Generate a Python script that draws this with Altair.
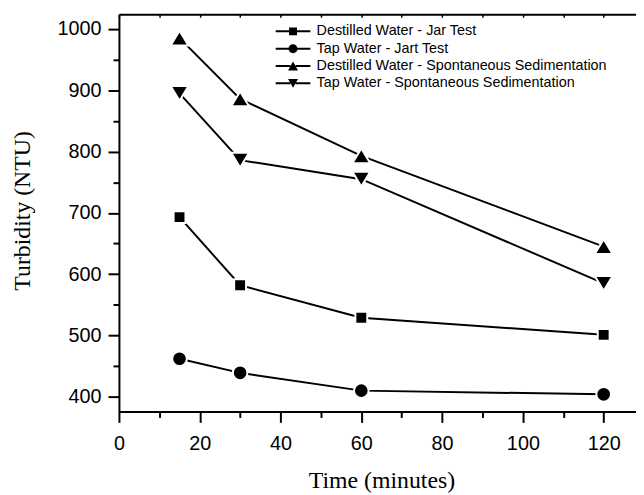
import altair as alt
import pandas as pd

# ---- data ----
time_min = [15, 30, 60, 120]
series_names = [
    "Destilled Water - Jar Test",
    "Tap Water - Jart Test",
    "Destilled Water - Spontaneous Sedimentation",
    "Tap Water - Spontaneous Sedimentation",
]
dw_jar = [693, 582, 529, 501]
tw_jar = [462, 439, 410, 404]
dw_ss = [985, 886, 793, 645]
tw_ss = [895, 786, 755, 585]

x_ticks = list(range(0, 130, 10))
y_ticks = list(range(400, 1001, 50))

rows = []
for name, vals in zip(series_names, [dw_jar, tw_jar, dw_ss, tw_ss]):
    for t, v in zip(time_min, vals):
        rows.append({"time": t, "turbidity": v, "series": name})
df = pd.DataFrame(rows)

# marker shapes (unit paths)
plot_paths = [
    "M-0.6,-0.6H0.6V0.6H-0.6Z",
    "M-0.74,0A0.74,0.74 0 1,1 0.74,0A0.74,0.74 0 1,1 -0.74,0Z",
    "M0,-0.75L0.9,0.75L-0.9,0.75Z",
    "M0,0.75L0.9,-0.75L-0.9,-0.75Z",
]
seg = "M-2.917,-0.167H-0.45V0.167H-2.917Z M0.45,-0.167H2.917V0.167H0.45Z "
legend_paths = [
    seg + "M-0.667,-0.667H0.667V0.667H-0.667Z",
    seg + "M-0.75,0A0.75,0.75 0 1,1 0.75,0A0.75,0.75 0 1,1 -0.75,0Z",
    seg + "M0,-0.75L0.833,0.75L-0.833,0.75Z",
    seg + "M0,0.75L-0.833,-0.75L0.833,-0.75Z",
]

xs = alt.Scale(domain=[0, 128], nice=False, zero=False)
ys = alt.Scale(domain=[376, 1024], nice=False, zero=False)

LAB = "Liberation Sans"
SER = "Liberation Serif"

y_enc = alt.Y(
    "turbidity:Q",
    scale=ys,
    axis=alt.Axis(
        values=y_ticks,
        format="d",
        labelExpr="datum.value % 100 === 0 ? datum.label : ''",
        tickSize={"condition": {"test": "datum.value % 100 === 0", "value": 11}, "value": 6},
        tickWidth=2,
        tickColor="black",
        domainWidth=2,
        domainColor="black",
        labelFont=LAB,
        labelFontSize=20,
        labelColor="black",
        labelPadding=7,
        grid=False,
        title="Turbidity (NTU)",
        titleFont=SER,
        titleFontSize=24,
        titleFontWeight="normal",
        titleColor="black",
        titleAngle=270,
        titleBaseline="alphabetic",
        titleAlign="center",
        titleX=-90,
        titleY=198,
    ),
)

x_bottom = alt.X(
    "time:Q",
    scale=xs,
    axis=alt.Axis(
        values=x_ticks,
        format="d",
        labelExpr="datum.value % 20 === 0 ? datum.label : ''",
        tickSize={"condition": {"test": "datum.value % 20 === 0", "value": 11}, "value": 6},
        tickWidth=2,
        tickColor="black",
        domainWidth=2,
        domainColor="black",
        labelFont=LAB,
        labelFontSize=20,
        labelColor="black",
        labelPadding=11,
        labelFlush=False,
        grid=False,
        title="Time (minutes)",
        titleFont=SER,
        titleFontSize=24,
        titleFontWeight="normal",
        titleColor="black",
        titleBaseline="alphabetic",
        titleAlign="center",
        titleX=265,
        titleY=77,
    ),
)

# top frame line
x_top = alt.X(
    "time:Q",
    scale=xs,
    axis=alt.Axis(
        orient="top",
        values=x_ticks,
        labels=False,
        ticks=False,
        title=None,
        domainWidth=2,
        domainColor="black",
        grid=False,
    ),
)

# small inward ticks on the top frame
x_top_ticks = alt.X(
    "time:Q",
    scale=xs,
    axis=alt.Axis(
        orient="top",
        values=x_ticks,
        labels=False,
        domain=False,
        title=None,
        offset=-3,
        tickSize=3,
        tickWidth=1.5,
        tickColor="black",
        grid=False,
    ),
)

base = alt.Chart(df)

lines = base.mark_line(color="black", strokeWidth=2).encode(
    x=x_bottom, y=y_enc, detail="series:N"
)

points = base.mark_point(
    filled=True, fill="black", stroke="white", strokeWidth=2, size=400, opacity=1
).encode(
    x=x_top,
    y=y_enc,
    shape=alt.Shape(
        "series:N",
        scale=alt.Scale(domain=series_names, range=plot_paths),
        legend=None,
    ),
)

legend_layer = base.mark_point(filled=True, color="black", opacity=0).encode(
    x=x_top_ticks,
    y=y_enc,
    shape=alt.Shape(
        "series:N",
        scale=alt.Scale(domain=series_names, range=legend_paths),
        legend=alt.Legend(
            title=None,
            orient="none",
            legendX=168.5,
            legendY=10,
            padding=0,
            symbolSize=144,
            symbolStrokeWidth=0,
            symbolOpacity=1,
            symbolFillColor="black",
            labelFont=LAB,
            labelFontSize=14.5,
            labelColor="black",
            labelOffset=16.5,
            labelLimit=400,
            rowPadding=2.5,
        ),
    ),
)

chart = (
    alt.layer(lines, points, legend_layer)
    .resolve_scale(shape="independent")
    .resolve_axis(x="independent")
    .properties(
        width=522,
        height=401,
        autosize=alt.AutoSizeParams(type="none"),
        padding={"left": 112, "top": 4, "right": 0, "bottom": 82},
        background="white",
    )
    .configure_view(stroke=None)
)

chart.save("out.html", embed_options={"renderer": "svg", "actions": False})
